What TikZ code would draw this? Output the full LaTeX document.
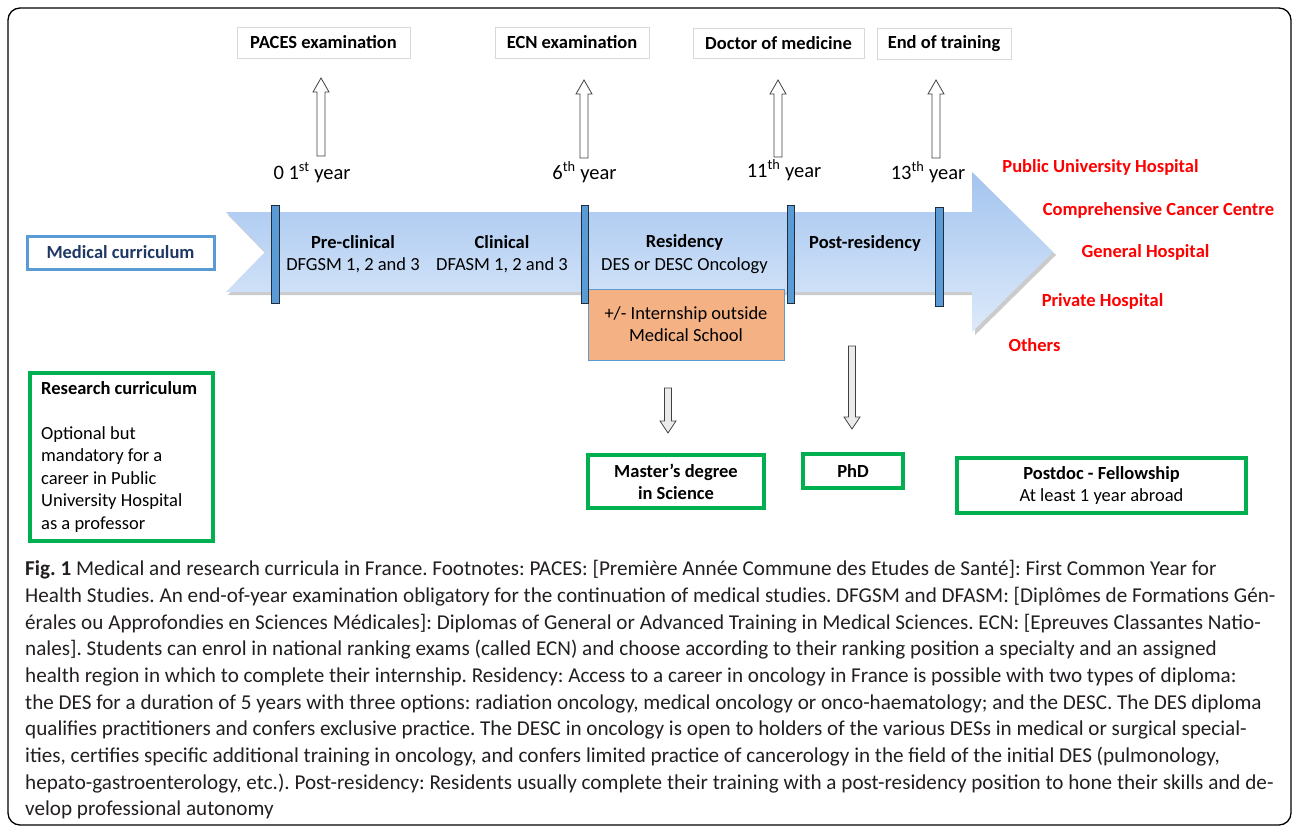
\documentclass[tikz,border=0pt]{standalone}
\usepackage{fontspec}
\setmainfont{Carlito}
\usetikzlibrary{calc}
\definecolor{barblue}{HTML}{5B9BD5}
\definecolor{bardark}{HTML}{1F2D3D}
\definecolor{medtext}{HTML}{1F3864}
\definecolor{resgreen}{HTML}{00B050}
\definecolor{orangefill}{HTML}{F4B183}
\definecolor{arrtop}{HTML}{A3C4EF}
\definecolor{arrbot}{HTML}{DDEAFA}
\definecolor{labelgray}{HTML}{D9D9D9}
\definecolor{redlab}{HTML}{FF0000}
\definecolor{captext}{HTML}{231F20}
\newcommand\blkup[2]{\draw[blkup] let \p1=(#1),\p2=(#2) in (\x1-4pt,\y1) -- (\x1-4pt,\y2-14pt) -- (\x1-8pt,\y2-14pt) -- (\x1,\y2) -- (\x1+8pt,\y2-14pt) -- (\x1+4pt,\y2-14pt) -- (\x1+4pt,\y1) -- cycle;}
\newcommand\blkdown[2]{\draw[blkdown] let \p1=(#1),\p2=(#2) in (\x1-3.5pt,\y1) -- (\x1-3.5pt,\y2+12pt) -- (\x1-8pt,\y2+12pt) -- (\x1,\y2) -- (\x1+8pt,\y2+12pt) -- (\x1+3.5pt,\y2+12pt) -- (\x1+3.5pt,\y1) -- cycle;}
\frenchspacing
\begin{document}
\begin{tikzpicture}[x=1pt,y=-1pt,
  every node/.style={font=\fontsize{18.5}{22.2}\selectfont, inner sep=0pt},
  toplabel/.style={draw=labelgray, line width=0.8pt, fill=white, font=\fontsize{18.5}{22.2}\selectfont\bfseries},
  yearlab/.style={font=\fontsize{20.5}{24}\selectfont, text height=0.72em, text depth=0.22em},
  phase/.style={align=center},
  yearbar/.style={draw=bardark, line width=0.9pt, fill=barblue},
  redtext/.style={text=redlab, font=\fontsize{18.5}{22.2}\selectfont\bfseries},
  greenbox/.style={draw=resgreen, line width=3.5pt, fill=white, align=center},
  blkup/.style={draw=black!75, line width=0.8pt, fill=white},
  blkdown/.style={draw=black!75, line width=0.8pt, fill=black!8},
  capline/.style={anchor=base west, text=captext, font=\fontsize{21.15}{26}\selectfont}
]
\useasboundingbox (0,0) rectangle (1292,827);
% frame
\draw[line width=1.3pt, rounded corners=12pt] (8,8) rectangle (1291,825);

% top labels
\node[toplabel, minimum width=173pt, minimum height=31pt] (paces) at (323.5,42.5) {PACES examination};
\node[toplabel, minimum width=154pt, minimum height=31pt] (ecn) at (572,42.5) {ECN examination};
\node[toplabel, minimum width=171pt, minimum height=30pt] (doc) at (778.5,43) {Doctor of medicine};
\node[toplabel, minimum width=134pt, minimum height=31pt] (eot) at (944,43.5) {End of training};

% year labels
\node[yearlab] (y0) at (312,177) {0 1\textsuperscript{st} year};
\node[yearlab] (y6) at (584.5,177) {6\textsuperscript{th} year};
\node[yearlab] (y11) at (784,175) {11\textsuperscript{th} year};
\node[yearlab] (y13) at (928,177) {13\textsuperscript{th} year};

% up arrows
\coordinate (u1s) at (321,156); \coordinate (u1e) at (321,78);
\coordinate (u2s) at (584,158); \coordinate (u2e) at (584,80);
\coordinate (u3s) at (778,157); \coordinate (u3e) at (778,80);
\coordinate (u4s) at (936,158); \coordinate (u4e) at (936,80);
\blkup{u1s}{u1e}
\blkup{u2s}{u2e}
\blkup{u3s}{u3e}
\blkup{u4s}{u4e}

% big arrow shadow and body
\fill[black!45, opacity=0.45] (228,215) -- (975,215) -- (975,175) -- (1056,255) -- (975,335) -- (975,295) -- (228,295) -- (267,255) -- cycle;
\shade[top color=arrtop, bottom color=arrbot] (226,212) -- (972,212) -- (972,172) -- (1053,252) -- (972,332) -- (972,292) -- (226,292) -- (265,252) -- cycle;

% orange box
\node[draw=barblue, line width=0.9pt, fill=orangefill, minimum width=196pt, minimum height=71pt, align=center] (intern) at (686,324.5) {+/- Internship outside\\Medical School};

% year bars
\fill[yearbar] (271,205) rectangle (279,303);
\fill[yearbar] (581,205) rectangle (588,303);
\fill[yearbar] (787,205) rectangle (794,303);
\fill[yearbar] (935,207) rectangle (943,306);

% phases
\node[phase] (pre) at (353,254) {\textbf{Pre-clinical}\\DFGSM 1, 2 and 3};
\node[phase] (clin) at (502,254) {\textbf{Clinical}\\DFASM 1, 2 and 3};
\node[phase] (resid) at (684.5,254) {\textbf{Residency}\\DES or DESC Oncology};
\node[font=\fontsize{18.5}{22.2}\selectfont\bfseries] (post) at (865,243) {Post-residency};

% medical curriculum
\node[draw=barblue, line width=3pt, fill=white, minimum width=187pt, minimum height=33pt, text=medtext, font=\fontsize{18.5}{22.2}\selectfont\bfseries] (med) at (120.5,252.5) {Medical curriculum};

% red outcomes
\node[redtext] (o1) at (1100.5,167) {Public University Hospital};
\node[redtext] (o2) at (1158.5,210) {Comprehensive Cancer Centre};
\node[redtext] (o3) at (1145.5,252) {General Hospital};
\node[redtext] (o4) at (1102.5,301) {Private Hospital};
\node[redtext] (o5) at (1034.5,345) {Others};

% research curriculum
\node[draw=resgreen, line width=3.5pt, fill=white, minimum width=183pt, minimum height=168pt] (res) at (121.5,457) {};
\node[anchor=north west, align=left, font=\fontsize{18.5}{22.5}\selectfont] (restext) at (41,381) {\textbf{Research curriculum}\\[22.5pt]Optional but\\mandatory for a\\career in Public\\University Hospital\\as a professor};

% down arrows
\coordinate (d1s) at (668,388); \coordinate (d1e) at (668,433);
\coordinate (d2s) at (852,346); \coordinate (d2e) at (852,429);
\blkdown{d1s}{d1e}
\blkdown{d2s}{d2e}

% green boxes
\node[greenbox, minimum width=176pt, minimum height=53pt, font=\fontsize{18.5}{22.2}\selectfont\bfseries] (master) at (676,481.5) {Master’s degree\\in Science};
\node[greenbox, minimum width=100pt, minimum height=34pt, font=\fontsize{18.5}{22.2}\selectfont\bfseries] (phd) at (853,471) {PhD};
\node[greenbox, minimum width=289pt, minimum height=55pt] (postdoc) at (1101.5,485.5) {\textbf{Postdoc - Fellowship}\\At least 1 year abroad};

% caption
\node[capline] (c1) at (25,575) {\textbf{Fig. 1} Medical and research curricula in France. Footnotes: PACES: [Première Année Commune des Etudes de Santé]: First Common Year for};
\node[capline] (c2) at (25,602) {Health Studies. An end-of-year examination obligatory for the continuation of medical studies. DFGSM and DFASM: [Diplômes de Formations Gén-};
\node[capline] (c3) at (25,629) {érales ou Approfondies en Sciences Médicales]: Diplomas of General or Advanced Training in Medical Sciences. ECN: [Epreuves Classantes Natio-};
\node[capline] (c4) at (25,655) {nales]. Students can enrol in national ranking exams (called ECN) and choose according to their ranking position a specialty and an assigned};
\node[capline] (c5) at (25,682) {health region in which to complete their internship. Residency: Access to a career in oncology in France is possible with two types of diploma:};
\node[capline] (c6) at (25,709) {the DES for a duration of 5 years with three options: radiation oncology, medical oncology or onco-haematology; and the DESC. The DES diploma};
\node[capline] (c7) at (25,735) {qualifies practitioners and confers exclusive practice. The DESC in oncology is open to holders of the various DESs in medical or surgical special-};
\node[capline] (c8) at (25,762) {ities, certifies specific additional training in oncology, and confers limited practice of cancerology in the field of the initial DES (pulmonology,};
\node[capline] (c9) at (25,789) {hepato-gastroenterology, etc.). Post-residency: Residents usually complete their training with a post-residency position to hone their skills and de-};
\node[capline] (c10) at (25,815) {velop professional autonomy};
\end{tikzpicture}
\end{document}
